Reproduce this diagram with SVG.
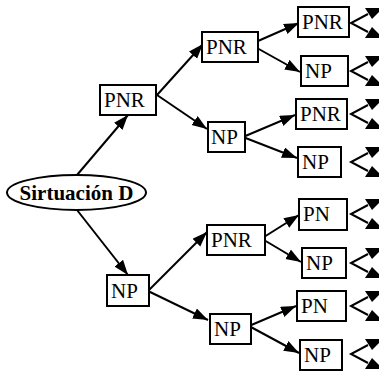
<svg xmlns="http://www.w3.org/2000/svg" width="379" height="373" viewBox="0 0 379 373">
<style>
.box{fill:#fff;stroke:#000;stroke-width:2}
.lbl{font-family:"Liberation Serif","Times New Roman",serif;font-size:21px;fill:#000}
.root{font-family:"Liberation Serif","Times New Roman",serif;font-size:21px;font-weight:bold;fill:#000}
.edge{stroke:#000;stroke-width:2;fill:none;marker-end:url(#ah)}
.stub{stroke:#000;stroke-width:2;fill:none}
.head{fill:#000}
</style>
<defs>
<marker id="ah" markerUnits="userSpaceOnUse" markerWidth="16" markerHeight="12" refX="15" refY="5.5" orient="auto">
<path d="M0,0 L15,5.5 L0,11 z" fill="#000"/>
</marker>
</defs>
<rect width="379" height="373" fill="#fff"/>
<g id="connectors">
<line class="edge" x1="77" y1="175" x2="128" y2="115"/>
<line class="edge" x1="77" y1="210" x2="128" y2="275"/>
<line class="edge" x1="157" y1="95" x2="203" y2="44"/>
<line class="edge" x1="157" y1="95" x2="207" y2="129"/>
<line class="edge" x1="258" y1="41" x2="299" y2="23"/>
<line class="edge" x1="257" y1="48" x2="300" y2="72"/>
<line class="edge" x1="243" y1="137" x2="295" y2="115"/>
<line class="edge" x1="243" y1="137" x2="297" y2="158"/>
<line class="edge" x1="148" y1="291" x2="207" y2="232"/>
<line class="edge" x1="148" y1="291" x2="208" y2="320"/>
<line class="edge" x1="264" y1="237" x2="299" y2="215"/>
<line class="edge" x1="264" y1="240" x2="301" y2="262"/>
<line class="edge" x1="249" y1="326" x2="296" y2="306"/>
<line class="edge" x1="249" y1="326" x2="299" y2="353"/>
<g id="stubs">
<g transform="translate(0,23)"><polyline class="stub" points="368,-9 351,0 368,9"/><polygon class="head" points="365,-15 379,-15 379,-11 372,-4"/><polygon class="head" points="365,15 379,15 379,11 372,4"/></g>
<g transform="translate(0,71)"><polyline class="stub" points="368,-9 351,0 368,9"/><polygon class="head" points="365,-15 379,-15 379,-11 372,-4"/><polygon class="head" points="365,15 379,15 379,11 372,4"/></g>
<g transform="translate(0,114)"><polyline class="stub" points="368,-9 351,0 368,9"/><polygon class="head" points="365,-15 379,-15 379,-11 372,-4"/><polygon class="head" points="365,15 379,15 379,11 372,4"/></g>
<g transform="translate(0,162)"><polyline class="stub" points="368,-9 351,0 368,9"/><polygon class="head" points="365,-15 379,-15 379,-11 372,-4"/><polygon class="head" points="365,15 379,15 379,11 372,4"/></g>
<g transform="translate(0,214)"><polyline class="stub" points="368,-9 351,0 368,9"/><polygon class="head" points="365,-15 379,-15 379,-11 372,-4"/><polygon class="head" points="365,15 379,15 379,11 372,4"/></g>
<g transform="translate(0,263)"><polyline class="stub" points="368,-9 351,0 368,9"/><polygon class="head" points="365,-15 379,-15 379,-11 372,-4"/><polygon class="head" points="365,15 379,15 379,11 372,4"/></g>
<g transform="translate(0,306)"><polyline class="stub" points="368,-9 351,0 368,9"/><polygon class="head" points="365,-15 379,-15 379,-11 372,-4"/><polygon class="head" points="365,15 379,15 379,11 372,4"/></g>
<g transform="translate(0,354)"><polyline class="stub" points="368,-9 351,0 368,9"/><polygon class="head" points="365,-15 379,-15 379,-11 372,-4"/><polygon class="head" points="365,15 379,15 379,11 372,4"/></g>
</g>
</g>
<g id="root"><ellipse cx="76.5" cy="192.5" rx="69.5" ry="17.5" fill="#fff" stroke="#000" stroke-width="2"/><text class="root" x="76.5" y="200" text-anchor="middle">Sirtuación D</text></g>
<g id="A"><rect class="box" x="100" y="85" width="56" height="30"/><text class="lbl" x="104" y="107">PNR</text></g>
<g id="B"><rect class="box" x="202" y="32" width="56" height="30"/><text class="lbl" x="206" y="54">PNR</text></g>
<g id="C"><rect class="box" x="298" y="7" width="51" height="30"/><text class="lbl" x="302" y="29">PNR</text></g>
<g id="D"><rect class="box" x="301" y="56" width="47" height="30"/><text class="lbl" x="305" y="78">NP</text></g>
<g id="E"><rect class="box" x="208" y="122" width="37" height="30"/><text class="lbl" x="211" y="144">NP</text></g>
<g id="F"><rect class="box" x="296" y="99" width="51" height="30"/><text class="lbl" x="300" y="121">PNR</text></g>
<g id="G"><rect class="box" x="298" y="147" width="43" height="30"/><text class="lbl" x="302" y="169">NP</text></g>
<g id="H"><rect class="box" x="107" y="275" width="42" height="31"/><text class="lbl" x="111" y="298">NP</text></g>
<g id="I"><rect class="box" x="207" y="225" width="58" height="30"/><text class="lbl" x="211" y="247">PNR</text></g>
<g id="J"><rect class="box" x="299" y="199" width="48" height="31"/><text class="lbl" x="303" y="221">PN</text></g>
<g id="K"><rect class="box" x="302" y="248" width="44" height="30"/><text class="lbl" x="306" y="270">NP</text></g>
<g id="L"><rect class="box" x="210" y="314" width="41" height="30"/><text class="lbl" x="214" y="336">NP</text></g>
<g id="M"><rect class="box" x="297" y="291" width="49" height="30"/><text class="lbl" x="301" y="313">PN</text></g>
<g id="N"><rect class="box" x="300" y="340" width="42" height="30"/><text class="lbl" x="304" y="362">NP</text></g>
</svg>
